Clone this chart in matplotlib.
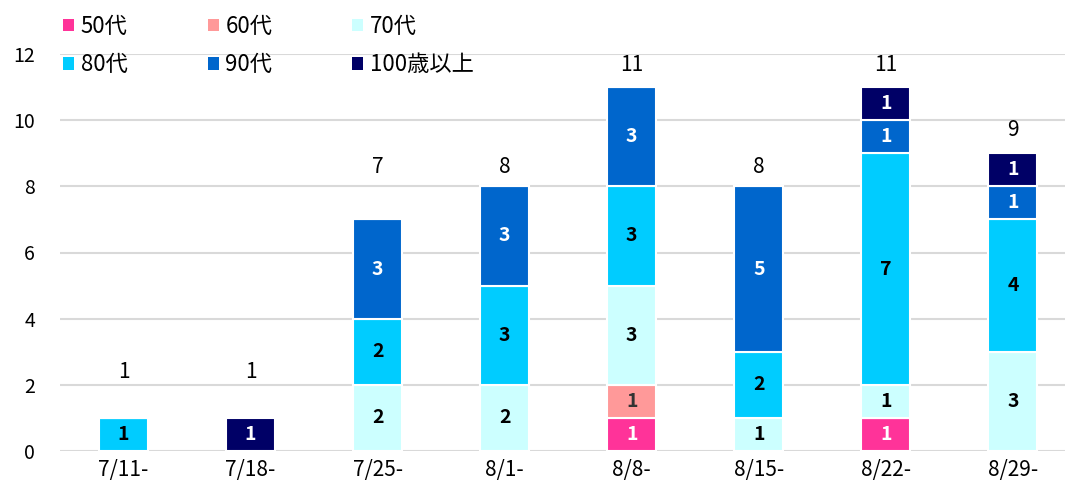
import numpy as np
import matplotlib
matplotlib.use("Agg")
import matplotlib.pyplot as plt
from matplotlib.patches import Patch

plt.rcParams['font.family'] = ['Noto Sans CJK JP', 'DejaVu Sans']

# データ
weeks = ['7/11-', '7/18-', '7/25-', '8/1-', '8/8-', '8/15-', '8/22-', '8/29-']
ages = ['50代', '60代', '70代', '80代', '90代', '100歳以上']
s50 = [0, 0, 0, 0, 1, 0, 1, 0]
s60 = [0, 0, 0, 0, 1, 0, 0, 0]
s70 = [0, 0, 2, 2, 3, 1, 1, 3]
s80 = [1, 0, 2, 3, 3, 2, 7, 4]
s90 = [0, 0, 3, 3, 3, 5, 1, 1]
s100 = [0, 1, 0, 0, 0, 0, 1, 1]

colors = ['#FF3399', '#FF9999', '#CCFFFF', '#00CCFF', '#0066CC', '#000066']
txt_colors = ['white', '#333333', 'black', 'black', 'white', 'white']
# 合計ラベルの高さ（元のグラフに合わせる）
total_y = [2.4, 2.4, 8.58, 8.58, 11.67, 8.58, 11.67, 9.7]

series = [s50, s60, s70, s80, s90, s100]

fig = plt.figure(figsize=(10.65, 4.88), dpi=100)
ax = fig.add_axes([60/1065, 37/488, 1005/1065, 397/488])

x = np.arange(len(weeks))
bottom = np.zeros(len(weeks))
for vals, c, tc in zip(series, colors, txt_colors):
    vals = np.array(vals)
    ax.bar(x, vals, 0.385, bottom=bottom, color=c, edgecolor='white', linewidth=1.5, zorder=3)
    for i, v in enumerate(vals):
        if v > 0:
            ax.text(x[i], bottom[i] + v / 2, str(v), ha='center', va='center',
                    fontsize=14, fontweight='bold', color=tc, zorder=4)
    bottom = bottom + vals

for i, t in enumerate(bottom):
    ax.text(x[i], total_y[i], str(int(t)), ha='center', va='center', fontsize=15, color='black')

ax.set_xlim(-0.5, 7.41)
ax.set_ylim(0, 12)
ax.set_yticks(range(0, 13, 2))
ax.set_xticks(x)
ax.set_xticklabels(weeks, fontsize=15)
ax.tick_params(axis='y', labelsize=14, length=0, pad=18)
ax.tick_params(axis='x', length=0, pad=6)
ax.grid(axis='y', color='#d9d9d9', linewidth=1.5, zorder=0)
for s in ax.spines.values():
    s.set_visible(False)

# 凡例は行方向に並べる
order = [0, 3, 1, 4, 2, 5]
handles = [Patch(facecolor=colors[k], edgecolor='none') for k in order]
labels = [ages[k] for k in order]
fig.legend(handles, labels, loc='upper left', bbox_to_anchor=(54/1065, 1 - 6/488), ncol=3,
           frameon=False, fontsize=16, handlelength=0.5, handleheight=0.5,
           handletextpad=0.3, columnspacing=3.6, labelspacing=0.7, borderaxespad=0.0)

fig.savefig('out.png', dpi=100)
